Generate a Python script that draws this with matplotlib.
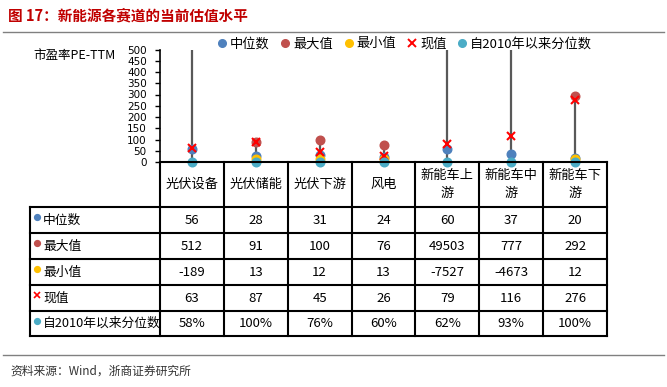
"""
新能源各赛道的当前估值水平 (high-low chart with data table)
"""
import matplotlib
matplotlib.use("Agg")
from matplotlib import pyplot as plt
from matplotlib.lines import Line2D
import numpy as np

plt.rcParams['font.family'] = ['Noto Sans CJK SC', 'DejaVu Sans']

# data
categories = ["光伏设备", "光伏储能", "光伏下游", "风电", "新能车上游", "新能车中游", "新能车下游"]
median = [56, 28, 31, 24, 60, 37, 20]
maximum = [512, 91, 100, 76, 49503, 777, 292]
minimum = [-189, 13, 12, 13, -7527, -4673, 12]
current = [63, 87, 45, 26, 79, 116, 276]
pct_since_2010 = [0.58, 1.00, 0.76, 0.60, 0.62, 0.93, 1.00]
series_names = ["中位数", "最大值", "最小值", "现值", "自2010年以来分位数"]

W, H = 667, 387
YMIN, YMAX = 0, 500


def fx(x):
    return x / W


def fy(y):
    return 1 - y / H


def in_range(vals):
    # Excel hides points that fall outside the value axis
    a = np.array(vals, dtype=float)
    return np.ma.masked_outside(a, YMIN, YMAX)


c_med = "#4F81BD"
c_max = "#C0504D"
c_min = "#FFC000"
c_cur = "#FF0000"
c_pct = "#4BACC6"
c_line = "#595959"

fig = plt.figure(figsize=(W / 100, H / 100), dpi=100)

# plot area
x0, x1, ytop, ybot = 160, 607, 49.5, 162
ax = fig.add_axes([fx(x0), fy(ybot), fx(x1) - fx(x0), fy(ytop) - fy(ybot)])
xs = np.arange(len(categories))
ax.vlines(xs, minimum, maximum, color=c_line, lw=1.6, zorder=1)
ms = 6.2
ax.plot(xs, in_range(median), "o", color=c_med, ms=ms, ls="none", zorder=2)
ax.plot(xs, in_range(maximum), "o", color=c_max, ms=ms, ls="none", zorder=3)
ax.plot(xs, in_range(minimum), "o", color=c_min, ms=ms, ls="none", zorder=4,
        clip_on=False)
ax.plot(xs, in_range(current), "x", color=c_cur, ms=6, mew=1.5, ls="none", zorder=5)
ax.plot(xs, in_range(pct_since_2010), "o", color=c_pct, ms=ms, ls="none", zorder=6,
        clip_on=False)
ax.set_xlim(-0.5, len(categories) - 0.5)
ax.set_ylim(YMIN, YMAX)
ax.set_yticks(np.arange(YMIN, YMAX + 1, 50))
ax.tick_params(axis="y", labelsize=7.5, length=3.5, width=1, pad=6)
for t in ax.get_yticklabels():
    t.set_family("DejaVu Sans")
ax.set_xticks([])
for s in ["top", "right", "bottom"]:
    ax.spines[s].set_visible(False)
ax.spines["left"].set_linewidth(1.2)
fig.text(fx(33), fy(55), "市盈率PE-TTM", fontsize=9, va="center", ha="left")

# legend
handles = [
    Line2D([], [], marker="o", color=c_med, ls="none", ms=5.5),
    Line2D([], [], marker="o", color=c_max, ls="none", ms=5.5),
    Line2D([], [], marker="o", color=c_min, ls="none", ms=5.5),
    Line2D([], [], marker="x", color=c_cur, ls="none", ms=5.5, mew=1.4),
    Line2D([], [], marker="o", color=c_pct, ls="none", ms=5.5),
]
fig.legend(handles, series_names, ncol=5, loc="center", frameon=False,
           bbox_to_anchor=(fx(405), fy(44)), fontsize=9.5, handlelength=0.6,
           handletextpad=0.3, columnspacing=0.9, borderaxespad=0)

# data table
col_w = (x1 - x0) / len(categories)
col_edges = [x0 + i * col_w for i in range(len(categories) + 1)]
row_edges = [162, 207, 233, 259, 285, 311, 336]
lab_x = 30
lw = 1.5


def hline(y, xa, xb):
    fig.add_artist(Line2D([fx(xa), fx(xb)], [fy(y), fy(y)], color="black",
                          lw=lw, transform=fig.transFigure))


def vline(x, ya, yb):
    fig.add_artist(Line2D([fx(x), fx(x)], [fy(ya), fy(yb)], color="black",
                          lw=lw, transform=fig.transFigure))


hline(row_edges[0], x0, x1)
for y in row_edges[1:]:
    hline(y, lab_x, x1)
for x in col_edges:
    vline(x, row_edges[0], row_edges[-1])
vline(lab_x, row_edges[1], row_edges[-1])

for i, cat in enumerate(categories):
    label = cat if len(cat) <= 4 else cat[:4] + "\n" + cat[4:]
    fig.text(fx(x0 + (i + 0.5) * col_w), fy((row_edges[0] + row_edges[1]) / 2),
             label, ha="center", va="center", fontsize=9.5, linespacing=1.5)

rows = [
    [str(v) for v in median],
    [str(v) for v in maximum],
    [str(v) for v in minimum],
    [str(v) for v in current],
    ["%d%%" % round(v * 100) for v in pct_since_2010],
]
row_markers = [("o", c_med), ("o", c_max), ("o", c_min), ("x", c_cur), ("o", c_pct)]
for r, (name, vals) in enumerate(zip(series_names, rows)):
    yc = (row_edges[r + 1] + row_edges[r + 2]) / 2
    m, c = row_markers[r]
    fig.add_artist(Line2D([fx(37)], [fy(yc - 3)], marker=m, color=c, ms=4,
                          mew=1.2, ls="none", transform=fig.transFigure))
    fig.text(fx(43), fy(yc), name, ha="left", va="center", fontsize=9.2)
    for i, v in enumerate(vals):
        fig.text(fx(x0 + (i + 0.5) * col_w), fy(yc), v, ha="center",
                 va="center", fontsize=9.5)

# title, separators, source
fig.text(fx(8), fy(15), "图 17：新能源各赛道的当前估值水平", color="#C00000",
         fontsize=10.5, fontweight="bold", ha="left", va="center")
fig.add_artist(Line2D([fx(3), fx(664)], [fy(32), fy(32)], color="#808080",
                      lw=1, transform=fig.transFigure))
fig.add_artist(Line2D([fx(3), fx(664)], [fy(355), fy(355)], color="#808080",
                      lw=1, transform=fig.transFigure))
fig.text(fx(10), fy(371), "资料来源：Wind，浙商证券研究所", color="#333333",
         fontsize=8.5, ha="left", va="center")

plt.savefig("out.png", dpi=100)
